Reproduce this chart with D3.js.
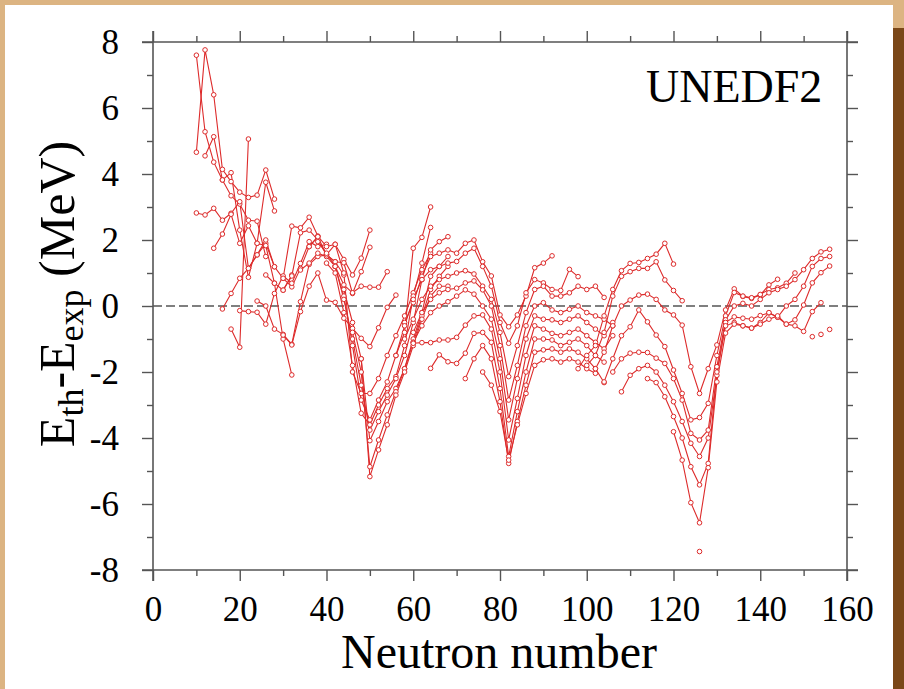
<!DOCTYPE html>
<html>
<head>
<meta charset="utf-8">
<script src="https://cdn.jsdelivr.net/npm/d3@7"></script>
<style>
  body { margin: 0; background: #fff; }
  svg { display: block; }
  text { font-family: "Liberation Serif", "Times New Roman", serif; fill: #000; }
</style>
</head>
<body>
<svg id="chart" width="904" height="689"></svg>
<script>
// axis ticks
var xMajor = [0, 20, 40, 60, 80, 100, 120, 140, 160];
var xMinor = [10, 30, 50, 70, 90, 110, 130, 150];
var yMajor = [-8, -6, -4, -2, 0, 2, 4, 6, 8];
var yMinor = [-7, -5, -3, -1, 1, 3, 5, 7];

// isotopic chains: [first neutron number, residuals (MeV) every 2 neutrons]
var lightChains = [
  [10, [7.6, 5.28, 4.36, 3.82, 3.34, 3.09, 2.6, 2.57, 1.5]],
  [10, [4.66, 7.76, 6.4, 4.14, 3.77, 3.45, 3.29, 3.36, 4.12, 3.24]],
  [10, [2.82, 2.76, 2.96, 2.6, 2.81, 3.16, 1.14, 1.55, 1.9, 1.19]],
  [12, [4.55, 5.13, 3.82, 4.04, 2.3, 0.87, 1.9, 3.75, 2.88]],
  [14, [1.75, 2.18, 2.78, 1.9, 2.43, 1.9, 1.83, 0.69, 0.48, 0.94]],
  [16, [-0.09, 0.38, 0.84, 1.14, 1.55, 2.0, 1.19, 0.84, 0.58, 1.14, 1.8, 2.1]],
  [18, [-0.7, -1.25, 5.06]],
  [20, [-0.14, -0.17, -0.19, -0.55, 0.38, 0.91, 0.69, 1.29, 1.95, 1.8, 1.87]],
  [24, [0.15, 0.0, -0.7, -0.86, -1.16, 0.13, 1.26, 1.5, 1.55, 1.34, 0.94]],
  [26, [0.94, 0.69, -1.0, -2.09]]
];

var n50Chains = [
  [30, [0.84, 2.42, 2.37, 2.69, 2.12, 1.8, 1.87, 1.41, 0.94, 1.45, 2.3]],
  [30, [0.48, 0.91, 2.22, 2.3, 2.0, 1.55, 1.34, 1.31, 0.38, 1.04, 1.78]],
  [30, [-0.88, -1.18, -0.17, 0.6, 1.0, 0.18, 0.11, -0.37, -0.68, -0.98, -1.23, -0.66, -0.04, 0.33]],
  [34, [1.09, 1.3, 1.6, 1.5, 1.2, 0.64, 0.4, 0.6, 0.57, 0.57, 1.04]],
  [36, [1.8, 2.1, 1.55, 1.87, 1.0, -2.0, -2.65, -2.65, -2.2, -1.5, -0.9, -0.3, 0.4, 1.1, 1.6]],
  [38, [1.95, 1.6, 1.2, 0.3, -1.2, -2.85, -3.45, -2.85, -2.3, -1.5, -0.8, 1.75, 2.08, 3.0]],
  [40, [1.3, 1.0, -0.2, -1.8, -3.25, -3.6, -3.0, -2.5, -2.14, -1.2, 0.3, 1.3, 2.38]],
  [42, [1.2, 0.2, -1.0, -2.4, -3.76, -3.2, -2.7, -2.2, -1.5, -0.5, 0.8, 1.7, 1.95, 2.1]],
  [44, [0.5, -0.5, -1.6, -4.08, -3.5, -2.9, -2.5, -1.9, -1.0, -0.2, 0.9, 1.2, 1.5]],
  [46, [-0.8, -2.0, -4.87, -4.06, -3.3, -2.6, -1.9, -1.1, -0.3, 0.5, 0.9, 1.2]],
  [48, [-1.6, -5.17, -4.36, -3.6, -2.7, -2.0, -1.2, -0.4, 0.3, 0.6, 0.6]]
];

var n82Chains = [
  [58, [-0.5, 0.1, 0.9, 1.5, 1.6, 1.7, 1.6, 1.9, 2.0, 1.34, 0.91, -0.27, -0.63, -0.27, 0.3, 1.16, 1.3, 1.52]],
  [56, [-1.5, -0.6, 0.2, 0.8, 1.1, 1.2, 1.3, 1.35, 1.6, 1.75, 1.2, 0.6, -0.5, -1.13, -0.6, 0.4, 0.8, 0.7, 0.5, 0.47, 1.11, 0.89]],
  [58, [-1.0, -0.4, 0.2, 0.6, 0.8, 0.9, 1.0, 1.07, 0.97, 0.6, 0.2, -0.8, -2.14, -1.2, -0.2, 0.5, 0.6, 0.3, 0.3, 0.4, 0.6, 0.5, 0.6, 0.26]],
  [60, [-0.8, -0.2, 0.2, 0.4, 0.5, 0.54, 0.7, 0.76, 0.49, 0.0, -1.2, -2.85, -1.8, -0.6, 0.0, 0.1, -0.12, -0.2, -0.1, 0.0, -0.2, -0.3, -0.4, -0.6]],
  [60, [-1.1, -0.6, -0.2, 0.0, 0.13, 0.3, 0.49, 0.36, 0.0, -0.4, -1.6, -3.45, -2.2, -1.0, -0.3, -0.4, -0.42, -0.5, -0.4, -0.3, -0.5, -0.7, -0.9, -0.5]],
  [60, [-1.13, -1.11, -1.11, -1.03, -1.03, -0.95, -0.58, -0.3, -0.27, -0.7, -2.0, -4.06, -2.8, -1.5, -0.6, -0.7, -0.83, -0.9, -0.8, -0.7, -0.9, -1.1, -1.3, -0.9]],
  [64, [-1.89, -1.48, -1.69, -1.74, -1.43, -0.83, -0.8, -1.1, -2.5, -4.56, -3.2, -2.0, -1.0, -1.0, -1.03, -1.2, -1.1, -1.0, -1.2, -1.5, -1.7]],
  [72, [-2.2, -1.6, -1.2, -1.6, -2.9, -4.77, -3.5, -2.4, -1.4, -1.33, -1.3, -1.4, -1.3, -1.4, -1.6, -1.9, -2.32]],
  [76, [-2.0, -2.4, -3.2, -4.67, -3.6, -2.65, -1.8, -1.63, -1.6, -1.7, -1.6, -1.7, -1.9, -2.04]]
];

var n126Chains = [
  [98, [-1.9, -1.5, -1.2, -0.3, 0.5, 1.07, 1.29, 1.32, 1.44, 1.57, 1.9, 1.27]],
  [100, [-1.8, -1.5, -0.8, 0.3, 0.9, 1.04, 1.14, 1.14, 1.34, 0.79, 0.47, 0.16]],
  [102, [-1.9, -1.4, -0.6, 0.0, 0.18, 0.33, 0.36, 0.2, -0.12, -0.27, -0.58, -1.84, -2.65, -1.9, -1.18, -0.12, 0.52, 0.29, 0.23, 0.33, 0.64, 0.81]],
  [104, [-2.3, -1.6, -0.9, -0.63, -0.12, -0.48, -0.88, -1.23, -1.94, -2.65, -3.45, -3.38, -2.95, -1.5, -0.3, 0.41, 0.3, 0.25, 0.35, 0.5, 0.55, 0.69, 1.0]],
  [106, [-2.0, -1.6, -1.43, -1.4, -1.41, -1.58, -1.74, -2.2, -2.85, -3.86, -4.06, -3.76, -1.84, -0.42, 0.0, 0.08, 0.0, 0.2, 0.4, 0.5, 0.6, 0.8, 1.1, 1.44, 1.64, 1.72]],
  [108, [-2.6, -2.1, -1.9, -1.8, -2.0, -2.4, -2.9, -3.5, -4.16, -4.56, -4.0, -2.1, -0.5, -0.33, -0.37, -0.4, -0.29, -0.21, -0.34, 0.0, 0.2, 0.6, 1.2, 1.44, 1.5]],
  [114, [-2.2, -2.32, -2.75, -3.35, -4.0, -4.87, -5.42, -4.77, -2.0, -0.6, -0.5, -0.6, -0.67, -0.5, -0.2, -0.34, -0.55, -0.42, 0.03, 0.7, 1.01, 1.21]],
  [120, [-3.81, -4.67, -5.96, -6.57, -4.9, -2.3, -0.82, -0.55, -0.6, -0.67, -0.55, -0.4, -0.3, -0.55, -0.6, -0.77, -0.17, 0.1]]
];

// unconnected nuclei
var loosePoints = [[126, -7.44], [152, -0.93], [154, -0.86], [156, -0.71]];

var W = 904, H = 689;
var svg = d3.select("#chart");

// page border like the slide it came from
svg.append("rect").attr("width", W).attr("height", H).attr("fill", "#dcb482");
svg.append("rect").attr("x", 893).attr("y", 28).attr("width", 11).attr("height", H - 28).attr("fill", "#7a4718");
svg.append("rect").attr("x", 5).attr("y", 5).attr("width", 888).attr("height", H - 5).attr("fill", "#fff");

var x = d3.scaleLinear().domain([0, 160]).range([153, 847]);
var y = d3.scaleLinear().domain([-8, 8]).range([570, 42]);

var axisColor = "#555";
var plain = function (d) { return String(d); };   // keep "-" as in the original

function styleAxis(g) {
  g.select(".domain").remove();
  g.selectAll(".tick line").attr("stroke", axisColor).attr("stroke-width", 1.4);
  g.selectAll(".tick text").attr("font-family", "Liberation Serif, Times New Roman, serif")
    .attr("font-size", 35).attr("fill", "#000");
}

// major ticks with labels on bottom & left, bare on top & right
svg.append("g").attr("transform", "translate(0,570)")
  .call(d3.axisBottom(x).tickValues(xMajor).tickSize(11).tickPadding(15).tickFormat(plain))
  .call(styleAxis);
svg.append("g").attr("transform", "translate(0,42)")
  .call(d3.axisTop(x).tickValues(xMajor).tickSize(11).tickFormat(""))
  .call(styleAxis);
svg.append("g").attr("transform", "translate(153,0)")
  .call(d3.axisLeft(y).tickValues(yMajor).tickSize(11).tickPadding(23).tickFormat(plain))
  .call(styleAxis);
svg.append("g").attr("transform", "translate(847,0)")
  .call(d3.axisRight(y).tickValues(yMajor).tickSize(11).tickFormat(""))
  .call(styleAxis);

// minor ticks
svg.append("g").attr("transform", "translate(0,570)")
  .call(d3.axisBottom(x).tickValues(xMinor).tickSize(6).tickFormat("")).call(styleAxis);
svg.append("g").attr("transform", "translate(0,42)")
  .call(d3.axisTop(x).tickValues(xMinor).tickSize(6).tickFormat("")).call(styleAxis);
svg.append("g").attr("transform", "translate(153,0)")
  .call(d3.axisLeft(y).tickValues(yMinor).tickSize(6).tickFormat("")).call(styleAxis);
svg.append("g").attr("transform", "translate(847,0)")
  .call(d3.axisRight(y).tickValues(yMinor).tickSize(6).tickFormat("")).call(styleAxis);

// frame, lines run a little past the corners
var ext = 11;
var frame = svg.append("g").attr("stroke", axisColor).attr("stroke-width", 1.6);
[y(8), y(-8)].forEach(function (yy) {
  frame.append("line").attr("x1", x(0) - ext).attr("x2", x(160) + ext).attr("y1", yy).attr("y2", yy);
});
[x(0), x(160)].forEach(function (xx) {
  frame.append("line").attr("y1", y(8) - ext).attr("y2", y(-8) + ext).attr("x1", xx).attr("x2", xx);
});

// zero line
svg.append("line")
  .attr("x1", x(0)).attr("x2", x(160)).attr("y1", y(0)).attr("y2", y(0))
  .attr("stroke", axisColor).attr("stroke-width", 1.6).attr("stroke-dasharray", "9,4");

// data
var red = "#dd2b2b";
var allChains = lightChains.concat(n50Chains, n82Chains, n126Chains).map(function (c) {
  return c[1].map(function (v, i) { return { n: c[0] + 2 * i, v: v }; });
});
loosePoints.forEach(function (p) { allChains.push([{ n: p[0], v: p[1] }]); });

var line = d3.line().x(function (d) { return x(d.n); }).y(function (d) { return y(d.v); });

var plot = svg.append("g");
plot.selectAll("path.chain")
  .data(allChains.filter(function (c) { return c.length > 1; }))
  .enter().append("path")
  .attr("class", "chain")
  .attr("d", line)
  .attr("fill", "none").attr("stroke", red).attr("stroke-width", 1.1);

plot.selectAll("g.marks").data(allChains).enter().append("g").attr("class", "marks")
  .selectAll("circle").data(function (d) { return d; }).enter().append("circle")
  .attr("cx", function (d) { return x(d.n); })
  .attr("cy", function (d) { return y(d.v); })
  .attr("r", 2.3)
  .attr("fill", "#fff").attr("stroke", red).attr("stroke-width", 1);

// labels
svg.append("text").attr("x", 646).attr("y", 102).attr("font-size", 46).text("UNEDF2");

svg.append("text").attr("x", 499).attr("y", 668).attr("text-anchor", "middle")
  .attr("font-size", 48).text("Neutron number");

var yt = svg.append("text").attr("transform", "translate(74,294) rotate(-90)")
  .attr("text-anchor", "middle").attr("font-size", 50);
yt.append("tspan").text("E");
yt.append("tspan").attr("font-size", 36).attr("dy", 9).text("th");
yt.append("tspan").attr("dy", -9).text("-E");
yt.append("tspan").attr("font-size", 36).attr("dy", 9).text("exp");
yt.append("tspan").attr("dy", -9).text(" (MeV)");
</script>
</body>
</html>
